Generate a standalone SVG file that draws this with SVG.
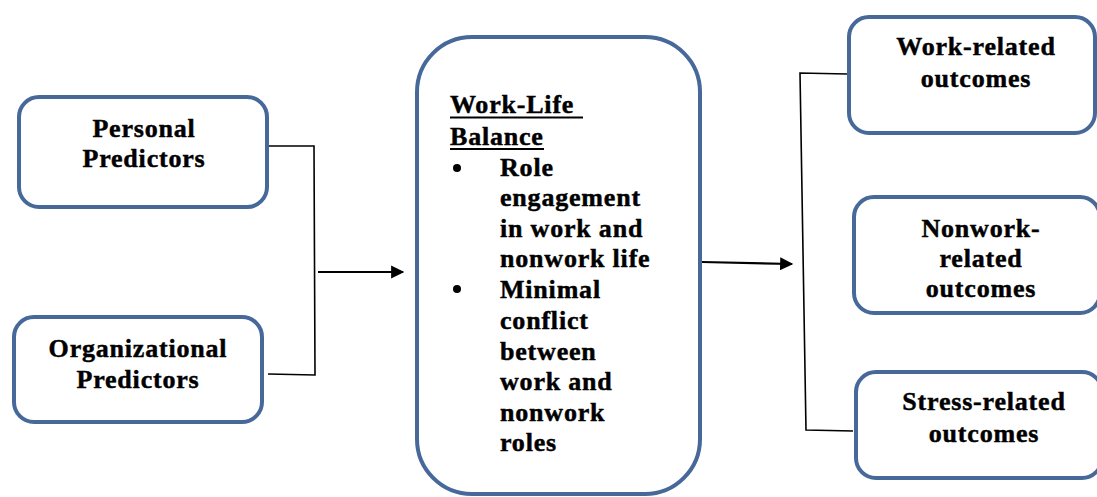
<svg xmlns="http://www.w3.org/2000/svg" width="1097" height="497" viewBox="0 0 1097 497">
  <style>
    .box { fill: #ffffff; stroke: #46699a; stroke-width: 4; }
    .lbl { font-family: "Liberation Serif", "Times New Roman", serif; font-weight: bold; font-size: 26px; letter-spacing: 0.8px; fill: #000; stroke: #000; stroke-width: 0.45; }
    .mid { text-anchor: middle; }
    .wire { fill: none; stroke: #000; stroke-width: 1.6; }
    .arrow { fill: none; stroke: #000; stroke-width: 2.2; }
  </style>
  <defs>
    <marker id="head" viewBox="0 0 10 10" refX="9" refY="5" markerWidth="7" markerHeight="6" markerUnits="strokeWidth" orient="auto">
      <path d="M0,0 L10,5 L0,10 z" fill="#000"/>
    </marker>
  </defs>
  <rect width="1097" height="497" fill="#ffffff"/>

  <!-- connectors -->
  <g id="connectors">
    <polyline class="wire" points="269,146 314,146 315,375 268,374"/>
    <line class="arrow" x1="318" y1="272" x2="403" y2="272" marker-end="url(#head)"/>
    <line class="arrow" x1="702" y1="262" x2="792" y2="264" marker-end="url(#head)"/>
    <polyline class="wire" points="847,74 800,73 806,430 853,431"/>
  </g>

  <g id="personal">
    <rect class="box" x="19" y="97" width="248" height="110" rx="20"/>
    <text class="lbl mid" x="144" y="137">Personal</text>
    <text class="lbl mid" x="144" y="167">Predictors</text>
  </g>

  <g id="organizational">
    <rect class="box" x="14" y="317" width="248" height="105" rx="20"/>
    <text class="lbl mid" x="138" y="357">Organizational</text>
    <text class="lbl mid" x="138" y="388">Predictors</text>
  </g>

  <g id="work-life-balance">
    <rect class="box" x="417" y="37" width="283" height="457" rx="55"/>
    <text class="lbl" x="450" y="113">Work-Life</text>
    <line x1="450" y1="117.5" x2="583" y2="117.5" stroke="#000" stroke-width="2"/>
    <text class="lbl" x="450" y="145">Balance</text>
    <line x1="450" y1="149" x2="544" y2="149" stroke="#000" stroke-width="2"/>
    <circle cx="457" cy="168" r="4"/>
    <text class="lbl" x="500" y="176">Role</text>
    <text class="lbl" x="500" y="206">engagement</text>
    <text class="lbl" x="500" y="237">in work and</text>
    <text class="lbl" x="500" y="267">nonwork life</text>
    <circle cx="457" cy="289" r="4"/>
    <text class="lbl" x="500" y="298">Minimal</text>
    <text class="lbl" x="500" y="329">conflict</text>
    <text class="lbl" x="500" y="360">between</text>
    <text class="lbl" x="500" y="390">work and</text>
    <text class="lbl" x="500" y="421">nonwork</text>
    <text class="lbl" x="500" y="451">roles</text>
  </g>

  <g id="work-related">
    <rect class="box" x="849" y="17" width="246" height="116" rx="20"/>
    <text class="lbl mid" x="976" y="55">Work-related</text>
    <text class="lbl mid" x="976" y="87">outcomes</text>
  </g>

  <g id="nonwork-related">
    <rect class="box" x="854" y="197" width="246" height="116" rx="20"/>
    <text class="lbl mid" x="981" y="237">Nonwork-</text>
    <text class="lbl mid" x="981" y="267">related</text>
    <text class="lbl mid" x="981" y="297">outcomes</text>
  </g>

  <g id="stress-related">
    <rect class="box" x="856" y="372" width="246" height="106" rx="20"/>
    <text class="lbl mid" x="984" y="410">Stress-related</text>
    <text class="lbl mid" x="984" y="442">outcomes</text>
  </g>
</svg>
